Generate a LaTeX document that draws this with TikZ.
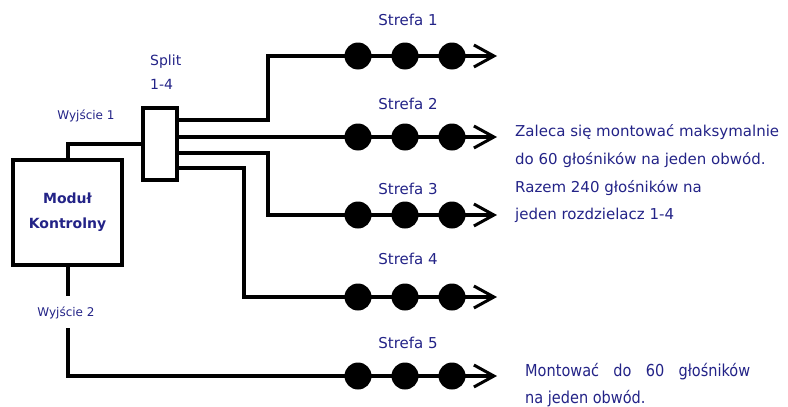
\documentclass[tikz,border=0pt]{standalone}
\usepackage{fontspec}
\setmainfont{DejaVu Sans}
\newfontfamily\condfont[FakeStretch=0.88]{DejaVu Sans}
\usetikzlibrary{arrows.meta}
\definecolor{navy}{RGB}{35,35,135}
\tikzset{
  wire/.style={line width=3.3pt, line join=miter, -{Straight Barb[length=20pt,width=22pt,line width=3pt]}},
  plain/.style={line width=3.3pt, line join=miter},
  boxstyle/.style={draw, line width=3.3pt, fill=white, inner sep=0pt},
  lbl/.style={text=navy, font=\fontsize{15}{18}\selectfont, inner sep=0pt},
  small/.style={text=navy, font=\fontsize{12}{14}\selectfont, inner sep=0pt},
  note/.style={text=navy, font=\fontsize{15}{18}\selectfont, inner sep=0pt, anchor=west},
}
\begin{document}
\begin{tikzpicture}[x=1pt,y=-1pt]
\useasboundingbox (0,0) rectangle (788,407);

% boxes
\node[boxstyle, minimum width=109pt, minimum height=105pt, align=center,
      font=\fontsize{14}{25}\selectfont\bfseries, text=navy] (mod) at (67.5,212.5) {Moduł\\Kontrolny};
\node[boxstyle, minimum width=34pt, minimum height=72pt] (split) at (160,144) {};

% labels
\node[small] (w1) at (86,116) {Wyjście 1};
\node[small] (w2) at (66,313) {Wyjście 2};
\node[text=navy, font=\fontsize{14}{24}\selectfont, inner sep=0pt, anchor=north west] (sp) at (150,55) {Split};
\node[text=navy, font=\fontsize{14}{24}\selectfont, inner sep=0pt, anchor=north west] (sp2) at (150,79) {1-4};

\node[lbl] (s1) at (408,20) {Strefa 1};
\node[lbl] (s2) at (408,104) {Strefa 2};
\node[lbl] (s3) at (408,189) {Strefa 3};
\node[lbl] (s4) at (408,259) {Strefa 4};
\node[lbl] (s5) at (408,343) {Strefa 5};

% tips
\coordinate (t1) at (497,56);
\coordinate (t2) at (497,137);
\coordinate (t3) at (497,215);
\coordinate (t4) at (497,297);
\coordinate (t5) at (497,376);
\coordinate (b1) at (268,120);
\coordinate (b3) at (268,153);
\coordinate (b4) at (244,168);
\coordinate (w2top) at (68,296);
\coordinate (w2bot) at (68,328);

% connectors
\draw[plain] (mod.north -| 68,0) |- (split.west);
\draw[wire] (split.east |- b1) -- (b1) |- (t1);
\draw[wire] (split.east |- t2) -- (t2);
\draw[wire] (split.east |- b3) -- (b3) |- (t3);
\draw[wire] (split.east |- b4) -- (b4) |- (t4);
\draw[plain] (mod.south -| w2top) -- (w2top);
\draw[wire] (w2bot) |- (t5);

% speakers
\foreach \y in {56,137,215,297,376}{
  \foreach \x in {358,405,452}{
    \fill (\x,\y) circle (13.5pt);
  }
}

% notes
\node[note] (n1) at (515,132) {Zaleca się montować maksymalnie};
\node[note] (n2) at (515,160) {do 60 głośników na jeden obwód.};
\node[note] (n3) at (515,188) {Razem 240 głośników na};
\node[note] (n4) at (515,215) {jeden rozdzielacz 1-4};
\node[note, font=\fontsize{16.5}{18}\selectfont\condfont] (n5) at (525,372) {\makebox[225pt][s]{Montować do 60 głośników}};
\node[note, font=\fontsize{16.5}{18}\selectfont\condfont] (n6) at (525,399) {na jeden obwód.};
\end{tikzpicture}
\end{document}
